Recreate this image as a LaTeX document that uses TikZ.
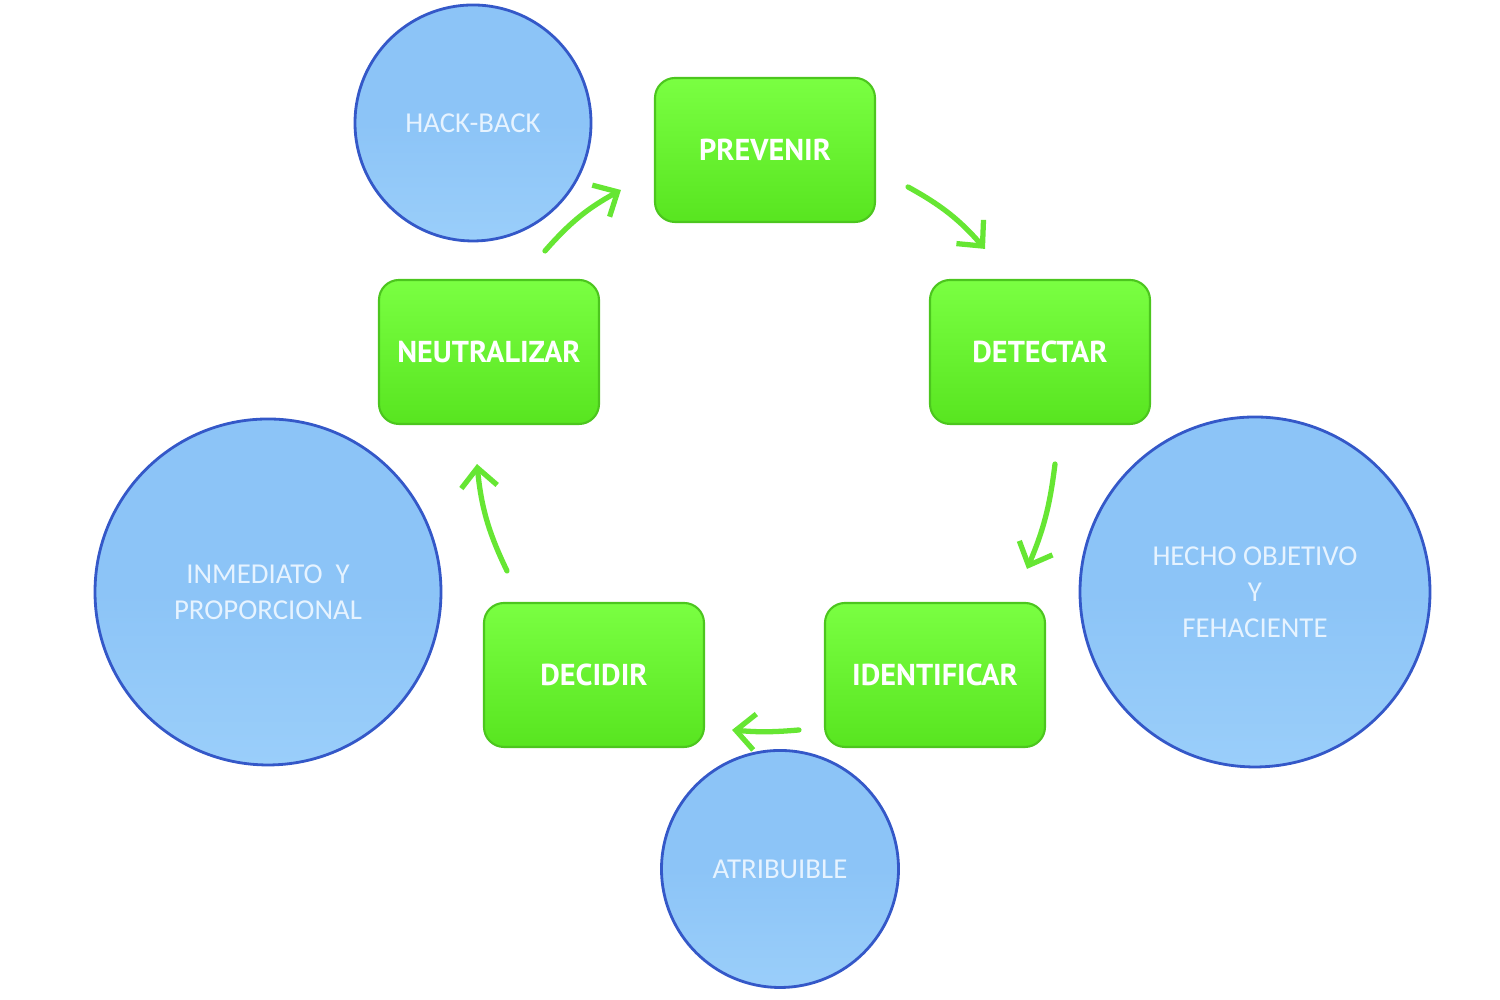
\documentclass[tikz,border=0pt]{standalone}
\usepackage{fontspec}
\setmainfont{Carlito}
\newfontfamily\boxfont{PT Sans}
\usetikzlibrary{arrows.meta}
\definecolor{boxgreen}{HTML}{58E520}
\definecolor{boxtop}{HTML}{7AFF42}
\definecolor{boxedge}{HTML}{4CC61E}
\definecolor{arrowgreen}{HTML}{66E633}
\definecolor{circfill}{HTML}{8CC4F7}
\definecolor{circlow}{HTML}{9ACEFA}
\definecolor{circedge}{HTML}{3458C8}
\definecolor{circtext}{HTML}{E6F3FF}
\begin{document}
\begin{tikzpicture}[line cap=round, line join=round, >={Straight Barb[length=1.9mm, width=3.6mm]},
    stage/.style={rectangle, rounded corners=0.2cm, draw=boxedge, line width=0.6pt,
        top color=boxtop, bottom color=boxgreen, minimum width=2.2cm, minimum height=1.44cm,
        text=white, font=\boxfont\bfseries\fontsize{8.6}{10}\selectfont},
    feature/.style={circle, draw=circedge, line width=0.8pt, top color=circfill, bottom color=circlow,
        middle color=circfill, text=circtext, align=center, inner sep=0pt,
        font=\fontsize{8.2}{10.2}\selectfont},
    cycle/.style={->, draw=arrowgreen, line width=1.5pt}]
    \useasboundingbox (0,0) rectangle (15,10);

    % Cycle stages
    \node[stage] (prev) at (7.65, 8.50) {PREVENIR};
    \node[stage] (det) at (10.40, 6.48) {DETECTAR};
    \node[stage] (ident) at (9.35, 3.25) {IDENTIFICAR};
    \node[stage] (dec) at (5.94, 3.25) {DECIDIR};
    \node[stage] (neu) at (4.89, 6.48) {NEUTRALIZAR};

    % Features round the cycle
    \node[feature, minimum size=2.36cm] (hack) at (4.73, 8.77) {HACK-BACK};
    \node[feature, minimum size=3.46cm] (inm) at (2.68, 4.08) {INMEDIATO\ \ Y\\PROPORCIONAL};
    \node[feature, minimum size=3.50cm] (hecho) at (12.55, 4.08) {HECHO OBJETIVO\\Y\\FEHACIENTE};
    \node[feature, minimum size=2.37cm] (atrib) at (7.80, 1.31) {ATRIBUIBLE};

    % Cycle arrows
    \draw[cycle] ([shift={(0.56,0.28)}]neu.north) to[bend left=10] ([shift={(-0.33,-0.40)}]prev.west);
    \draw[cycle] ([shift={(0.32,-0.37)}]prev.east) to[bend left=10] ([shift={(-0.55,0.30)}]det.north);
    \draw[cycle] ([shift={(0.15,-0.39)}]det.south) to[bend left=8] ([shift={(0.92,0.33)}]ident.north);
    \draw[cycle] ([shift={(-0.25,-0.55)}]ident.west) to[bend left=5] ([shift={(0.27,-0.55)}]dec.east);
    \draw[cycle] ([shift={(-0.87,0.31)}]dec.north) to[bend left=10] ([shift={(-0.12,-0.39)}]neu.south);
\end{tikzpicture}
\end{document}
